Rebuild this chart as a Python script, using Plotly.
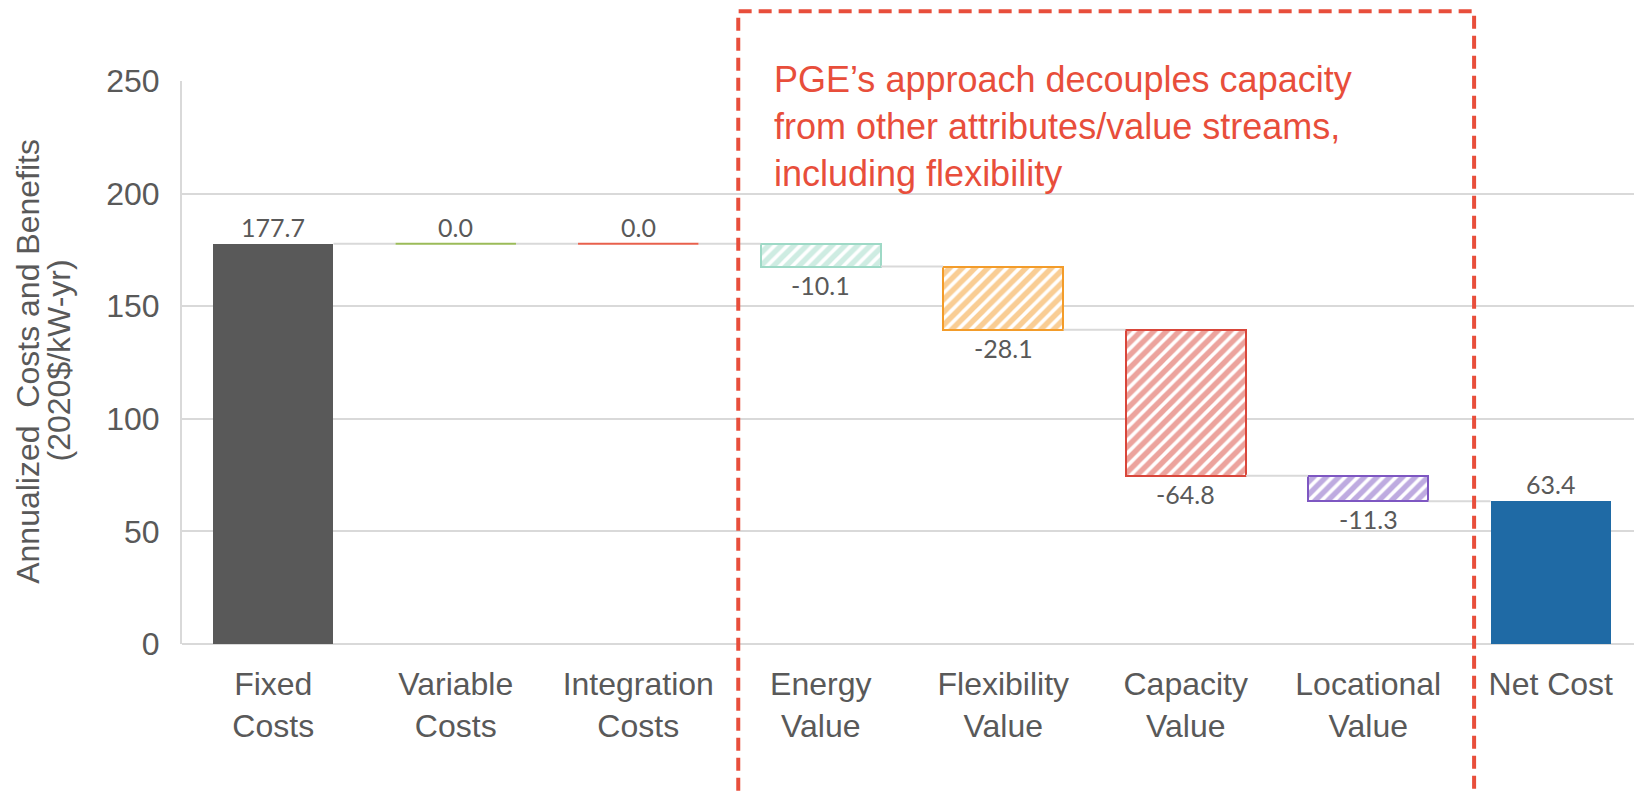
import plotly.graph_objects as go

# waterfall data (2020$/kW-yr)
categories = ["Fixed<br>Costs", "Variable<br>Costs", "Integration<br>Costs", "Energy<br>Value",
              "Flexibility<br>Value", "Capacity<br>Value", "Locational<br>Value", "Net Cost"]
values = [177.7, 0.0, 0.0, -10.1, -28.1, -64.8, -11.3, 63.4]
measures = ["absolute", "relative", "relative", "relative", "relative", "relative", "relative", "total"]
colors = ["#595959", "#9BBB59", "#E8604C", "#9ED9C6", "#F39C2A", "#D9473B", "#7E57C2", "#1F6AA5"]
hatched = [False, False, False, True, True, True, True, False]
labels = ["177.7", "0.0", "0.0", "-10.1", "-28.1", "-64.8", "-11.3", "63.4"]

ytitle = ["Annualized  Costs and Benefits", "(2020$/kW-yr)"]
note = "PGE’s approach decouples capacity<br>from other attributes/value streams,<br>including flexibility"

BAR_W = 0.66
GRID = "#D9D9D9"
TXT = "#595959"
RED = "#E84E3B"

# running totals -> base / end for each bar
bases, ends = [], []
running = 0.0
for v, m in zip(values, measures):
    if m == "absolute":
        running = v
        bases.append(0.0)
        ends.append(v)
    elif m == "total":
        bases.append(0.0)
        ends.append(running)
    else:
        bases.append(running)
        running += v
        ends.append(running)

fig = go.Figure()

# connectors between bars
for i in range(len(values) - 1):
    fig.add_trace(go.Scatter(
        x=[i + BAR_W / 2, i + 1 - BAR_W / 2], y=[ends[i], ends[i]],
        mode="lines", line=dict(color=GRID, width=2), hoverinfo="skip", showlegend=False,
    ))

for i, (v, c) in enumerate(zip(values, colors)):
    if v == 0:
        # zero-height step: just a coloured line
        fig.add_trace(go.Scatter(
            x=[i - BAR_W / 2, i + BAR_W / 2], y=[bases[i], bases[i]],
            mode="lines", line=dict(color=c, width=2), showlegend=False,
        ))
        continue
    if hatched[i]:
        marker = dict(color="white", line=dict(color=c, width=2),
                      pattern=dict(shape="/", fgcolor=c, bgcolor="white", size=9, solidity=0.6))
    else:
        marker = dict(color=c, line=dict(width=0))
    fig.add_trace(go.Bar(
        x=[i], y=[ends[i] - bases[i]], base=[bases[i]], width=BAR_W,
        marker=marker, showlegend=False,
    ))

# value labels: above for positive steps, below for negative
for i, v in enumerate(values):
    top = max(bases[i], ends[i])
    low = min(bases[i], ends[i])
    if v >= 0:
        fig.add_annotation(x=i, y=top, text=labels[i], showarrow=False, yanchor="bottom", yshift=0,
                           font=dict(family="Lato", size=25, color=TXT))
    else:
        fig.add_annotation(x=i, y=low, text=labels[i], showarrow=False, yanchor="top", yshift=-1,
                           font=dict(family="Lato", size=25, color=TXT))

# y-axis title, one annotation per line for tighter spacing
for xpos, line in zip([-0.1055, -0.0845], ytitle):
    fig.add_annotation(xref="paper", yref="paper", x=xpos, y=0.503, textangle=-90,
                       xanchor="center", yanchor="middle", text=line, showarrow=False,
                       font=dict(family="Liberation Sans", size=32, color=TXT))

# callout box
fig.add_shape(type="rect", xref="paper", yref="paper", x0=0.381, x1=0.885, y0=-0.30, y1=1.124,
              line=dict(color=RED, width=4, dash="13px,7px"), fillcolor="rgba(0,0,0,0)", layer="above")
fig.add_annotation(xref="paper", yref="paper", x=0.404, y=1.043, xanchor="left", yanchor="top",
                   text=note, showarrow=False, align="left",
                   font=dict(family="Liberation Sans", size=36, color=RED))

fig.update_layout(
    width=1634, height=786,
    margin=dict(l=174, r=0, t=73, b=150),
    plot_bgcolor="white", paper_bgcolor="white",
    bargap=0,
    font=dict(family="Liberation Sans", color=TXT),
    xaxis=dict(range=[-0.5, 7.5], tickvals=list(range(len(categories))), ticktext=categories,
               showgrid=False, zeroline=False, showline=False, ticks="",
               tickfont=dict(size=32, color=TXT), ticklabelstandoff=18, fixedrange=True),
    yaxis=dict(range=[0, 250], dtick=50, showgrid=True, gridcolor=GRID, gridwidth=2,
               zeroline=True, zerolinecolor=GRID, zerolinewidth=2,
               showline=True, linecolor=GRID, linewidth=2, ticks="",
               tickfont=dict(size=32, color=TXT), ticklabelstandoff=14),
)

fig.write_html("out.html")
